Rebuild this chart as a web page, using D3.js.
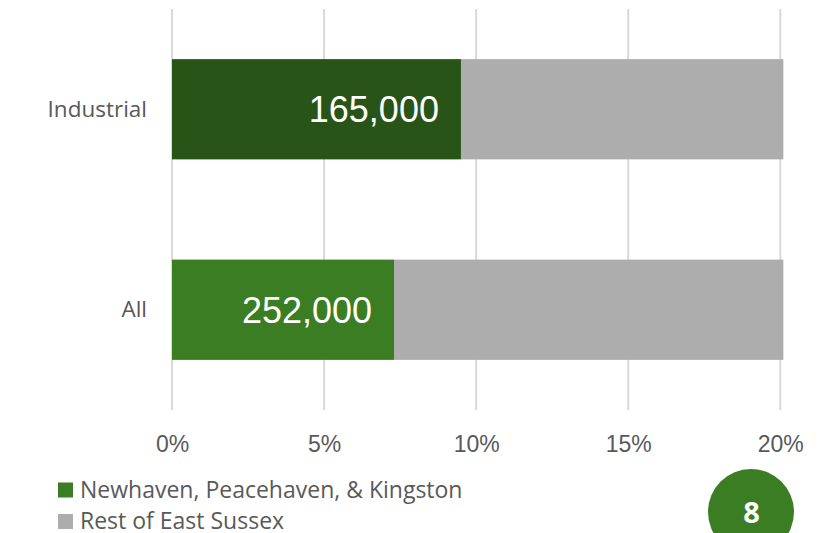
<!DOCTYPE html>
<html>
<head>
<meta charset="utf-8">
<script src="https://cdn.jsdelivr.net/npm/d3@7"></script>
<style>
  html, body { margin: 0; padding: 0; background: #fff; }
  svg { display: block; }
</style>
</head>
<body>
<svg id="chart" width="823" height="533"></svg>
<script>
// Share of floorspace (%), by category
const categories = ["Industrial", "All"];
const localShare = [9.5, 7.3];          // Newhaven, Peacehaven, & Kingston
const restShare = [10.6, 12.8];         // Rest of East Sussex
const valueLabels = ["165,000", "252,000"];
const localColors = ["#295417", "#3a7d22"];
const seriesNames = ["Newhaven, Peacehaven, & Kingston", "Rest of East Sussex"];
const tickValues = [0, 5, 10, 15, 20];
const pageNumber = "8";

const svg = d3.select("#chart");
const font = "'Liberation Sans', Arial, sans-serif";
const labelFont = "'Open Sans', sans-serif";
const textGrey = "#595959";

const x = d3.scaleLinear().domain([0, 20]).range([172, 780.3]);
const y = d3.scaleBand().domain(categories).range([9, 410]).paddingInner(0.5).paddingOuter(0.25);

// Gridlines
svg.append("g").selectAll("line").data(tickValues).join("line")
  .attr("x1", d => x(d)).attr("x2", d => x(d))
  .attr("y1", 9).attr("y2", 410)
  .attr("stroke", "#d9d9d9").attr("stroke-width", 2);

// Bars
const rows = categories.map((c, i) => ({ c, local: localShare[i], rest: restShare[i], label: valueLabels[i], color: localColors[i] }));
const g = svg.append("g");
g.selectAll("rect.rest").data(rows).join("rect")
  .attr("class", "rest")
  .attr("x", d => x(d.local)).attr("y", d => y(d.c))
  .attr("width", d => x(d.local + d.rest) - x(d.local)).attr("height", y.bandwidth())
  .attr("fill", "#adadad");
g.selectAll("rect.local").data(rows).join("rect")
  .attr("class", "local")
  .attr("x", x(0)).attr("y", d => y(d.c))
  .attr("width", d => x(d.local) - x(0)).attr("height", y.bandwidth())
  .attr("fill", d => d.color);

// Value labels at the inside end of the local segment
g.selectAll("text.val").data(rows).join("text")
  .attr("class", "val")
  .attr("x", d => x(d.local) - 22).attr("y", d => y(d.c) + y.bandwidth() / 2)
  .attr("dy", "0.36em")
  .attr("text-anchor", "end")
  .attr("font-family", font).attr("font-size", 36)
  .attr("fill", "#ffffff")
  .text(d => d.label);

// Category axis labels
svg.append("g").selectAll("text").data(categories).join("text")
  .attr("x", 147).attr("y", d => y(d) + y.bandwidth() / 2)
  .attr("dy", "0.34em").attr("text-anchor", "end")
  .attr("font-family", labelFont).attr("font-size", 22.5)
  .attr("fill", textGrey)
  .text(d => d);

// Value axis tick labels
svg.append("g").selectAll("text").data(tickValues).join("text")
  .attr("x", d => x(d) + 0.5).attr("y", 452)
  .attr("text-anchor", "middle")
  .attr("font-family", font).attr("font-size", 23)
  .attr("fill", textGrey)
  .text(d => d + "%");

// Legend
const legendColors = [localColors[1], "#adadad"];
const lg = svg.append("g");
seriesNames.forEach((name, i) => {
  const base = 497.5 + i * 31.5;
  lg.append("rect").attr("x", 58).attr("y", base - 15).attr("width", 15).attr("height", 15)
    .attr("fill", legendColors[i]);
  lg.append("text").attr("x", 80).attr("y", base)
    .attr("font-family", labelFont).attr("font-size", 23)
    .attr("fill", textGrey).text(name);
});

// Page number badge
svg.append("circle").attr("cx", 751).attr("cy", 512).attr("r", 43).attr("fill", "#3a7d22");
svg.append("text").attr("x", 751.5).attr("y", 523)
  .attr("text-anchor", "middle").attr("font-family", labelFont)
  .attr("font-weight", "bold").attr("font-size", 29).attr("fill", "#fff")
  .text(pageNumber);
</script>
</body>
</html>
